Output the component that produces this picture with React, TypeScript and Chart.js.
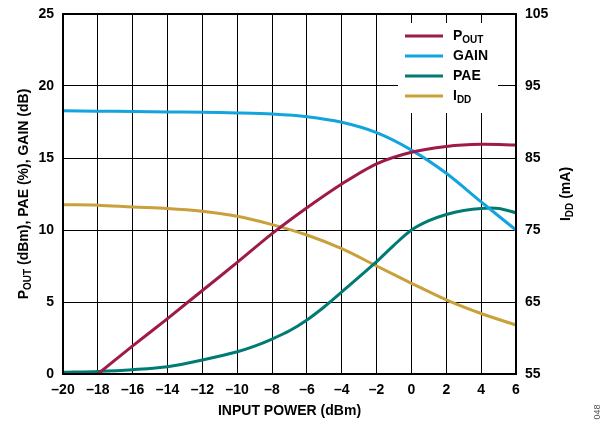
import React, { useEffect, useRef } from "react";
import { Chart, registerables } from "chart.js";

Chart.register(...registerables);

const inputPower = [-20, -18, -16, -14, -12, -10, -8, -6, -4, -2, 0, 2, 4, 6];
const poutX = [-18, -16, -14, -12, -10, -8, -6, -4, -2, 0, 2, 4, 6];
const pout = [0, 1.95, 3.85, 5.8, 7.75, 9.75, 11.55, 13.2, 14.6, 15.4, 15.8, 15.95, 15.9];
const gain = [18.28, 18.25, 18.23, 18.2, 18.18, 18.13, 18.05, 17.87, 17.48, 16.76, 15.55, 13.94, 11.95, 10.0];
const paeX = [-20, -18, -16, -14, -12, -10, -9, -8, -7, -6, -5, -4, -3, -2, -1, 0, 1, 2, 3, 4, 5, 6];
const pae = [0.12, 0.18, 0.3, 0.5, 0.97, 1.55, 1.94, 2.43, 3.0, 3.75, 4.67, 5.7, 6.75, 7.8, 8.95, 10.0, 10.65, 11.08, 11.36, 11.5, 11.5, 11.2];
const idd = [78.5, 78.45, 78.2, 78.0, 77.6, 76.9, 75.75, 74.3, 72.4, 70.0, 67.6, 65.3, 63.4, 61.8];

const xTicks = [-20, -18, -16, -14, -12, -10, -8, -6, -4, -2, 0, 2, 4, 6];
const leftTicks = [0, 5, 10, 15, 20, 25];
const rightTicks = [55, 65, 75, 85, 95, 105];

const COLORS = {
  pout: "#9e1a4b",
  gain: "#12a4dc",
  pae: "#007b74",
  idd: "#c9a03b",
};

const FONT = "'Liberation Sans', Arial, sans-serif";

type Part = { t: string; sub?: boolean };

function drawRich(ctx: CanvasRenderingContext2D, parts: Part[], x: number, y: number, size: number, subSize: number, align: "left" | "center") {
  const main = `bold ${size}px ${FONT}`;
  const sub = `bold ${subSize}px ${FONT}`;
  let total = 0;
  for (const p of parts) {
    ctx.font = p.sub ? sub : main;
    total += ctx.measureText(p.t).width;
  }
  let cx = align === "center" ? x - total / 2 : x;
  ctx.textBaseline = "middle";
  ctx.textAlign = "left";
  for (const p of parts) {
    ctx.font = p.sub ? sub : main;
    ctx.fillText(p.t, cx, p.sub ? y + 4 : y);
    cx += ctx.measureText(p.t).width;
  }
}

const legendItems: { color: string; parts: Part[] }[] = [
  { color: COLORS.pout, parts: [{ t: "P" }, { t: "OUT", sub: true }] },
  { color: COLORS.gain, parts: [{ t: "GAIN" }] },
  { color: COLORS.pae, parts: [{ t: "PAE" }] },
  { color: COLORS.idd, parts: [{ t: "I" }, { t: "DD", sub: true }] },
];

const decorPlugin = {
  id: "decor",
  beforeDatasetsDraw(chart: any) {
    const ctx = chart.ctx as CanvasRenderingContext2D;
    const a = chart.chartArea;
    ctx.save();
    ctx.fillStyle = "#ffffff";
    ctx.fillRect(a.right - 118, a.top + 9, 100, 90);
    ctx.restore();
  },
  afterDatasetsDraw(chart: any) {
    const ctx = chart.ctx as CanvasRenderingContext2D;
    const a = chart.chartArea;
    ctx.save();
    ctx.strokeStyle = "#000";
    ctx.lineWidth = 2;
    ctx.strokeRect(a.left, a.top, a.right - a.left, a.bottom - a.top);
    ctx.restore();
  },
  afterDraw(chart: any) {
    const ctx = chart.ctx as CanvasRenderingContext2D;
    const a = chart.chartArea;
    ctx.save();
    ctx.fillStyle = "#000";
    const lx0 = a.right - 111;
    const lx1 = a.right - 73;
    legendItems.forEach((item, i) => {
      const y = a.top + 22 + i * 20;
      ctx.strokeStyle = item.color;
      ctx.lineWidth = 3;
      ctx.beginPath();
      ctx.moveTo(lx0, y);
      ctx.lineTo(lx1, y);
      ctx.stroke();
      ctx.fillStyle = "#000";
      drawRich(ctx, item.parts, lx1 + 10, y, 14, 10, "left");
    });
    ctx.fillStyle = "#000";
    ctx.font = `bold 14px ${FONT}`;
    ctx.textAlign = "center";
    ctx.textBaseline = "middle";
    ctx.fillText("INPUT POWER (dBm)", (a.left + a.right) / 2, 411);
    ctx.save();
    ctx.translate(24, (a.top + a.bottom) / 2);
    ctx.rotate(-Math.PI / 2);
    drawRich(ctx, [{ t: "P" }, { t: "OUT", sub: true }, { t: " (dBm), PAE (%), GAIN (dB)" }], 0, 0, 14, 10, "center");
    ctx.restore();
    ctx.save();
    ctx.translate(566, (a.top + a.bottom) / 2);
    ctx.rotate(-Math.PI / 2);
    drawRich(ctx, [{ t: "I" }, { t: "DD", sub: true }, { t: " (mA)" }], 0, 0, 14, 10, "center");
    ctx.restore();
    ctx.save();
    ctx.translate(598, 412);
    ctx.rotate(-Math.PI / 2);
    ctx.fillStyle = "#555";
    ctx.font = `9px ${FONT}`;
    ctx.textAlign = "center";
    ctx.textBaseline = "middle";
    ctx.fillText("048", 0, 0);
    ctx.restore();
    ctx.restore();
  },
};

export default function App() {
  const ref = useRef<HTMLCanvasElement | null>(null);
  useEffect(() => {
    if (!ref.current) return;
    const tickFont = { family: FONT, size: 14, weight: "bold" as const };
    const lineStyle = { borderWidth: 3, tension: 0.3, pointRadius: 0, fill: false };
    const chart = new Chart(ref.current, {
      type: "line",
      data: {
        datasets: [
          {
            label: "POUT",
            data: poutX.map((x, i) => ({ x, y: pout[i] })),
            borderColor: COLORS.pout,
            yAxisID: "y",
            ...lineStyle,
          },
          {
            label: "GAIN",
            data: inputPower.map((x, i) => ({ x, y: gain[i] })),
            borderColor: COLORS.gain,
            yAxisID: "y",
            ...lineStyle,
          },
          {
            label: "PAE",
            data: paeX.map((x, i) => ({ x, y: pae[i] })),
            borderColor: COLORS.pae,
            yAxisID: "y",
            ...lineStyle,
          },
          {
            label: "IDD",
            data: inputPower.map((x, i) => ({ x, y: idd[i] })),
            borderColor: COLORS.idd,
            yAxisID: "y1",
            ...lineStyle,
          },
        ],
      },
      options: {
        animation: false,
        responsive: false,
        maintainAspectRatio: false,
        devicePixelRatio: 1,
        layout: { padding: { top: 14, left: 0, right: 0, bottom: 0 } },
        plugins: { legend: { display: false }, tooltip: { enabled: false } },
        scales: {
          x: {
            type: "linear",
            min: -20,
            max: 6,
            afterBuildTicks: (s: any) => {
              s.ticks = xTicks.map((v) => ({ value: v }));
            },
            afterFit: (s: any) => {
              s.height = 51;
              s.paddingLeft = 0;
              s.paddingRight = 0;
            },
            ticks: {
              font: tickFont,
              color: "#000",
              padding: 8,
              maxRotation: 0,
              autoSkip: false,
              callback: (v: any) => (Number(v) < 0 ? "–" + Math.abs(Number(v)) : String(v)),
            },
            grid: { color: "#000", lineWidth: 1, drawTicks: false },
            border: { display: false },
          },
          y: {
            type: "linear",
            position: "left",
            min: 0,
            max: 25,
            afterBuildTicks: (s: any) => {
              s.ticks = leftTicks.map((v) => ({ value: v }));
            },
            afterFit: (s: any) => {
              s.width = 63;
              s.paddingTop = 0;
              s.paddingBottom = 0;
            },
            ticks: { font: tickFont, color: "#000", padding: 9 },
            grid: { color: "#000", lineWidth: 1, drawTicks: false },
            border: { display: false },
          },
          y1: {
            type: "linear",
            position: "right",
            min: 55,
            max: 105,
            afterBuildTicks: (s: any) => {
              s.ticks = rightTicks.map((v) => ({ value: v }));
            },
            afterFit: (s: any) => {
              s.width = 95;
              s.paddingTop = 0;
              s.paddingBottom = 0;
            },
            ticks: { font: tickFont, color: "#000", padding: 9 },
            grid: { display: false, drawTicks: false },
            border: { display: false },
          },
        },
      },
      plugins: [decorPlugin],
    } as any);
    return () => chart.destroy();
  }, []);
  return (
    <div style={{ position: "fixed", left: 0, top: 0, width: 611, height: 425, background: "#fff" }}>
      <canvas ref={ref} width={611} height={425} style={{ width: 611, height: 425, display: "block" }} />
    </div>
  );
}
